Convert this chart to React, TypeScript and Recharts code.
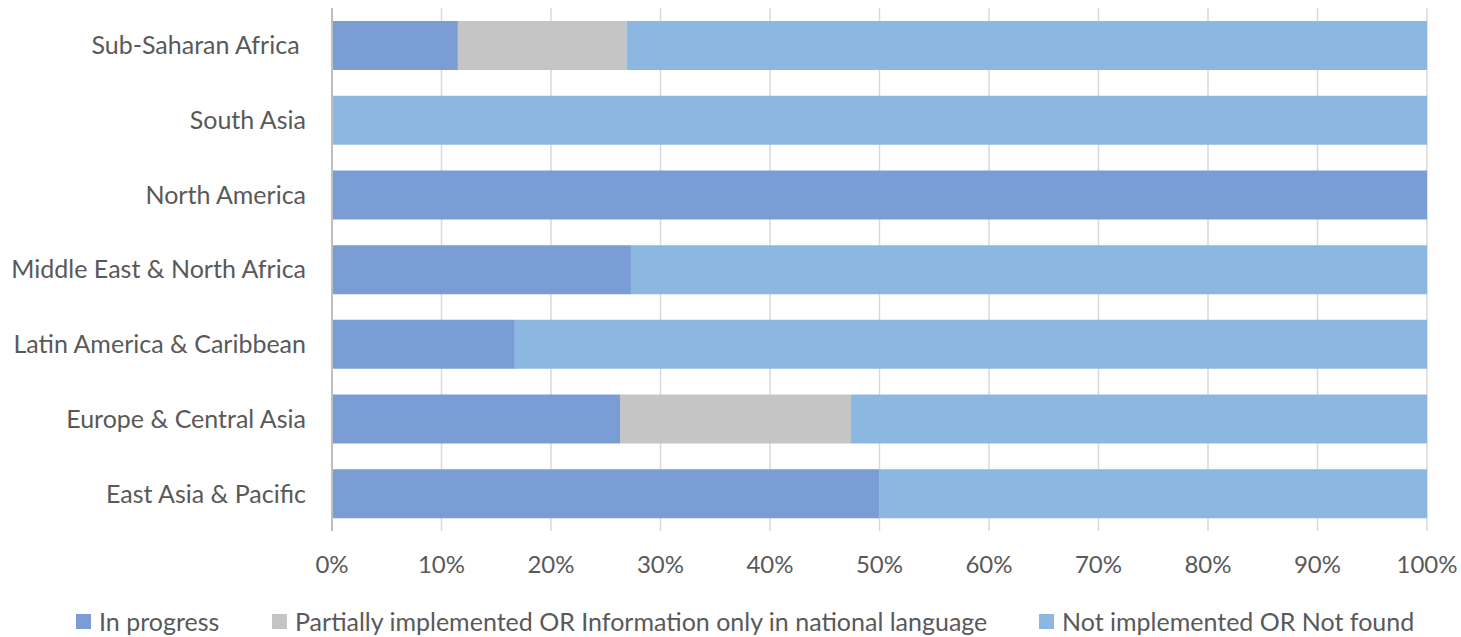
import React from "react";
import { BarChart, Bar, XAxis, YAxis, CartesianGrid } from "recharts";

const regions = [
  "Sub-Saharan Africa ",
  "South Asia",
  "North America",
  "Middle East & North Africa",
  "Latin America & Caribbean",
  "Europe & Central Asia",
  "East Asia & Pacific",
];
const inProgress = [11.5, 0, 100, 27.3, 16.7, 26.3, 50];
const partial = [15.4, 0, 0, 0, 0, 21.1, 0];
const notImplemented = [73.1, 100, 0, 72.7, 83.3, 52.6, 50];
const xTicks = [0, 10, 20, 30, 40, 50, 60, 70, 80, 90, 100];

// legend item left edges, px
const legendLefts = [76, 272, 1039];

const series = [
  { key: "inProgress", name: "In progress", color: "#7b9dd5" },
  { key: "partial", name: "Partially implemented OR Information only in national language", color: "#c6c5c6" },
  { key: "notImplemented", name: "Not implemented OR Not found", color: "#8bb7e0" },
];

const data = regions.map((region, i) => ({
  region,
  inProgress: inProgress[i],
  partial: partial[i],
  notImplemented: notImplemented[i],
}));

const font = "Lato, 'Open Sans', sans-serif";
const textColor = "#595959";

export default function App() {
  return (
    <div style={{ position: "absolute", left: 0, top: 0, width: 1461, height: 637, background: "#fff", fontFamily: font }}>
      <BarChart
        width={1461}
        height={637}
        data={data}
        layout="vertical"
        margin={{ top: 8, right: 34, left: 0, bottom: 66 }}
      >
        <CartesianGrid horizontal={false} stroke="#d9d9d9" strokeWidth={1.5} />
        <XAxis
          type="number"
          domain={[0, 100]}
          ticks={xTicks}
          tickFormatter={(v) => `${v}%`}
          axisLine={false}
          tickLine={false}
          tickSize={0}
          tickMargin={25}
          height={40}
          interval={0}
          tick={{ fontSize: 24, fill: textColor, fontFamily: font }}
        />
        <YAxis
          type="category"
          dataKey="region"
          width={332}
          axisLine={{ stroke: "#bfbfbf", strokeWidth: 2 }}
          tickLine={false}
          tickSize={0}
          tickMargin={26}
          interval={0}
          tick={{ fontSize: 25, fill: textColor, fontFamily: font, style: { whiteSpace: "pre" } }}
        />
        {series.map((s) => (
          <Bar
            key={s.key}
            dataKey={s.key}
            name={s.name}
            stackId="a"
            fill={s.color}
            barSize={49}
            isAnimationActive={false}
          />
        ))}
      </BarChart>
      {series.map((s, i) => (
        <div
          key={s.key}
          style={{
            position: "absolute",
            top: 606,
            left: legendLefts[i],
            display: "flex",
            alignItems: "center",
            fontSize: 25,
            color: textColor,
            lineHeight: "30px",
            whiteSpace: "nowrap",
          }}
        >
          <span style={{ display: "inline-block", width: 15, height: 15, background: s.color, marginRight: 8 }} />
          <span>{s.name}</span>
        </div>
      ))}
    </div>
  );
}
